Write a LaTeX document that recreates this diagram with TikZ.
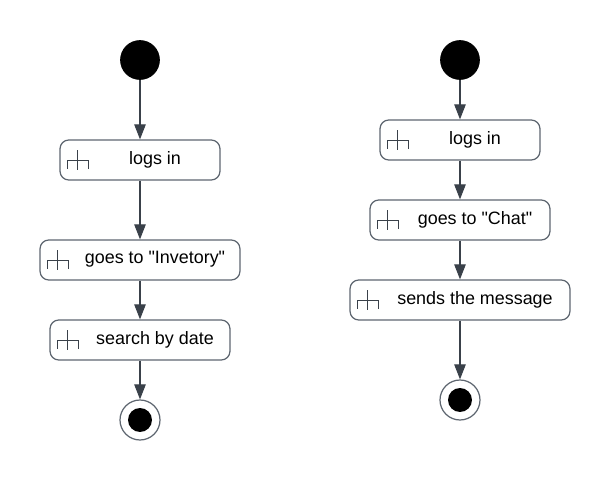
\documentclass[tikz,border=0pt]{standalone}
\usepackage{fontspec}
\setmainfont{Liberation Sans}[Ligatures=TeXOff]
\usetikzlibrary{arrows.meta,positioning}
\definecolor{linecol}{HTML}{3A414A}
\definecolor{boxcol}{HTML}{5E6670}

\begin{document}
\begin{tikzpicture}
	[
		x=0.02cm, y=-0.02cm,
		act/.style = {shape=rectangle, draw=boxcol, line width=0.7pt, rounded corners=5pt, minimum height=0.8cm, inner sep=0pt},
		acttext/.style = {font=\fontsize{10.2}{12}\selectfont, text=black, inner sep=0pt},
		start/.style = {shape=circle, fill=black, draw=black, minimum size=0.78cm, inner sep=0pt},
		stopring/.style = {shape=circle, draw=boxcol, line width=0.7pt, minimum size=0.8cm, inner sep=0pt},
		stopdot/.style = {shape=circle, fill=black, minimum size=0.48cm, inner sep=0pt},
		flow/.style = {draw=linecol, line width=0.6pt, -{Triangle[length=8.5pt, width=6.5pt]}},
		fork/.style = {draw=linecol, line width=0.45pt}
	]
	
	\useasboundingbox (0,0) rectangle (610,480);
	
	% the small fork sign in an action box, #1 is the box
	\newcommand{\forkicon}[1]{
		\draw [fork] ([xshift=0.36cm, yshift=-0.2cm]#1.west) -- ([xshift=0.36cm, yshift=0.2cm]#1.west);
		\draw [fork] ([xshift=0.16cm, yshift=-0.18cm]#1.west) -- ([xshift=0.16cm, yshift=0cm]#1.west) -- ([xshift=0.58cm, yshift=0cm]#1.west) -- ([xshift=0.58cm, yshift=-0.18cm]#1.west);
	}
	
	% left
	\def\x{140}
	
	\node [start] (startL) at (\x, 60) {};
	\node [act, minimum width=3.2cm] (loginL) at (\x, 160) {};
	\node [act, minimum width=4cm] (inventoryL) at (\x, 260) {};
	\node [act, minimum width=3.6cm] (searchL) at (\x, 340) {};
	\node [stopring] (stopL) at (\x, 420) {};
	\node [stopdot] (dotL) at (\x, 420) {};
	
	\node [acttext] (loginLtext) at (155, 159.5) {logs in};
	\node [acttext] (inventoryLtext) at (155, 259.5) {goes to "Invetory"};
	\node [acttext] (searchLtext) at (155, 339.5) {search by date};
	
	\forkicon{loginL}
	\forkicon{inventoryL}
	\forkicon{searchL}
	
	\draw [flow] (startL) -- (loginL);
	\draw [flow] (loginL) -- (inventoryL);
	\draw [flow] (inventoryL) -- (searchL);
	\draw [flow] (searchL) -- (stopL);
	
	% right
	\def\x{460}
	
	\node [start] (startR) at (\x, 60) {};
	\node [act, minimum width=3.2cm] (loginR) at (\x, 140) {};
	\node [act, minimum width=3.6cm] (chatR) at (\x, 220) {};
	\node [act, minimum width=4.4cm] (sendR) at (\x, 300) {};
	\node [stopring] (stopR) at (\x, 400) {};
	\node [stopdot] (dotR) at (\x, 400) {};
	
	\node [acttext] (loginRtext) at (475, 139.5) {logs in};
	\node [acttext] (chatRtext) at (475, 219.5) {goes to "Chat"};
	\node [acttext] (sendRtext) at (475, 299.5) {sends the message};
	
	\forkicon{loginR}
	\forkicon{chatR}
	\forkicon{sendR}
	
	\draw [flow] (startR) -- (loginR);
	\draw [flow] (loginR) -- (chatR);
	\draw [flow] (chatR) -- (sendR);
	\draw [flow] (sendR) -- (stopR);
	
\end{tikzpicture}
\end{document}
